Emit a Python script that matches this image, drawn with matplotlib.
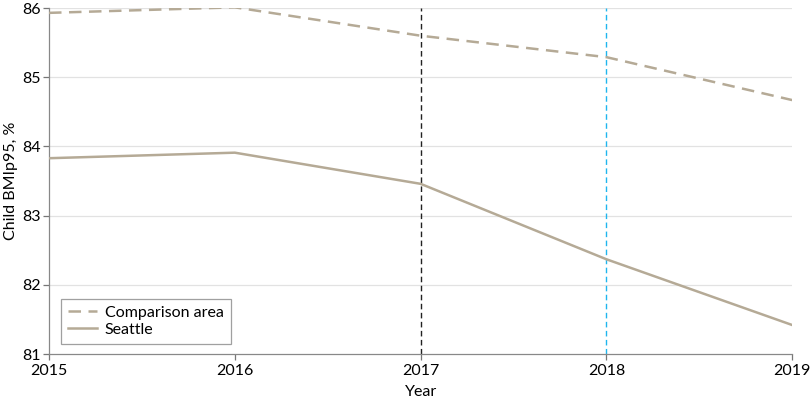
import matplotlib
matplotlib.use("Agg")
import matplotlib.pyplot as plt

years = [2015, 2016, 2017, 2018, 2019]
comparison = [85.93, 86.01, 85.60, 85.29, 84.67]
seattle = [83.83, 83.91, 83.46, 82.37, 81.42]
line_color = "#b5aa96"

plt.rcParams['font.family'] = ['Lato', 'DejaVu Sans']

fig = plt.figure(figsize=(8.1, 4.01), dpi=100)
ax = fig.add_axes([0.0605, 0.117, 0.9175, 0.863])

for y in [82, 83, 84, 85, 86]:
    ax.axhline(y, color="#e2e2e2", lw=0.9, zorder=0)

ax.axvline(2017, color="#222222", lw=1.0, ls=(0, (4, 2.5)), zorder=1)
ax.axvline(2018, color="#1fb6ee", lw=1.0, ls=(0, (4, 2.5)), zorder=1)

ax.plot(years, comparison, color=line_color, lw=1.8, ls=(0, (5, 3)), label="Comparison area", zorder=3)
ax.plot(years, seattle, color=line_color, lw=1.8, label="Seattle", zorder=3)

ax.set_xlim(2015, 2019)
ax.set_ylim(81, 86)
ax.set_xticks(years)
ax.set_yticks([81, 82, 83, 84, 85, 86])
ax.set_xlabel("Year", fontsize=11.5, labelpad=5)
ax.set_ylabel("Child BMIp95, %", fontsize=11.5, labelpad=3)
ax.tick_params(labelsize=11.5, color="#777777", length=4, width=0.9, pad=2)
ax.tick_params(axis="x", pad=3)

for side in ["top", "right"]:
    ax.spines[side].set_visible(False)
for side in ["left", "bottom"]:
    ax.spines[side].set_color("#888888")
    ax.spines[side].set_linewidth(0.9)

leg = ax.legend(loc="lower left", bbox_to_anchor=(0.016, 0.03), fontsize=11.5,
                frameon=True, fancybox=False, handlelength=1.8, borderpad=0.45,
                labelspacing=0.15, handletextpad=0.5, borderaxespad=0)
leg.get_frame().set_edgecolor("#888888")
leg.get_frame().set_linewidth(0.9)

fig.savefig("out.png", dpi=100)
